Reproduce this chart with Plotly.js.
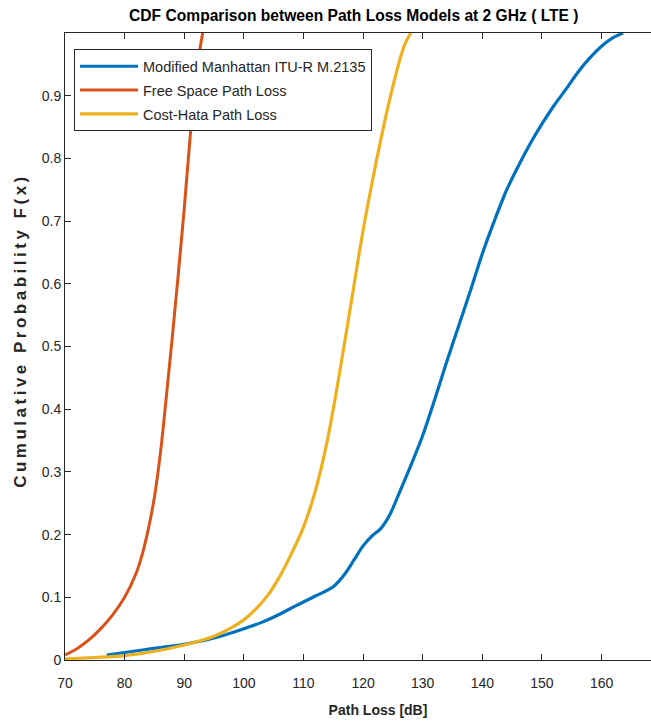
<!DOCTYPE html>
<html>
<head>
<meta charset="utf-8">
<script src="https://cdn.plot.ly/plotly-3.0.1.min.js"></script>
<style>
html,body{margin:0;padding:0;background:#fff;overflow:hidden;}
#chart{width:691px;height:727px;}
.annotation-text{letter-spacing:3.5px;}
</style>
</head>
<body>
<div id="chart"></div>
<script>
// Modified Manhattan ITU-R M.2135
const manhattanX = [77, 80, 83, 86, 90, 95, 100, 103, 106, 109, 112, 115, 117, 118.5, 120, 121.5, 123, 124.5, 126, 128, 130, 132, 134, 136, 138, 140, 142, 144, 146, 148, 150, 152, 154, 156, 158, 160, 162, 163.6];
const manhattanY = [0.008, 0.012, 0.016, 0.02, 0.025, 0.035, 0.05, 0.06, 0.073, 0.088, 0.102, 0.117, 0.138, 0.16, 0.182, 0.198, 0.21, 0.232, 0.265, 0.31, 0.358, 0.415, 0.475, 0.532, 0.589, 0.648, 0.70, 0.748, 0.787, 0.823, 0.855, 0.884, 0.91, 0.937, 0.96, 0.979, 0.993, 1.0];
// Free Space Path Loss
const freeSpaceX = [70, 72, 74, 76, 78, 80, 82, 83, 84, 85, 86, 87, 88, 89, 90, 91, 92, 93.1];
const freeSpaceY = [0.008, 0.018, 0.032, 0.05, 0.072, 0.1, 0.14, 0.17, 0.21, 0.26, 0.33, 0.42, 0.515, 0.615, 0.72, 0.835, 0.935, 1.0];
// Cost-Hata Path Loss
const hataX = [70, 75, 80, 85, 90, 95, 98, 100, 102, 104, 106, 108, 110, 112, 114, 116, 118, 120, 122, 124, 125, 126, 127, 128];
const hataY = [0.002, 0.004, 0.007, 0.014, 0.024, 0.038, 0.052, 0.064, 0.081, 0.103, 0.133, 0.17, 0.212, 0.27, 0.35, 0.455, 0.57, 0.685, 0.785, 0.875, 0.915, 0.952, 0.982, 1.0];

const xTicks = [70, 80, 90, 100, 110, 120, 130, 140, 150, 160];
const yTicks = [0, 0.1, 0.2, 0.3, 0.4, 0.5, 0.6, 0.7, 0.8, 0.9];
const yTickText = ['0', '0.1', '0.2', '0.3', '0.4', '0.5', '0.6', '0.7', '0.8', '0.9'];

const font = '"Liberation Sans", Arial, sans-serif';
const txtColor = '#262626';

const traces = [
  {x: manhattanX, y: manhattanY, mode: 'lines', name: 'Modified Manhattan ITU-R M.2135',
   line: {color: '#0072BD', width: 3.2, shape: 'spline', smoothing: 0.8}, legendgroup: 'a'},
  {x: freeSpaceX, y: freeSpaceY, mode: 'lines', name: 'Free Space Path Loss',
   line: {color: '#D95319', width: 3, shape: 'spline'}, legendgroup: 'b'},
  {x: hataX, y: hataY, mode: 'lines', name: 'Cost-Hata Path Loss',
   line: {color: '#EDB120', width: 3.2, shape: 'spline'}, legendgroup: 'c'}
];

const layout = {
  width: 691, height: 727,
  margin: {l: 65, r: 0, t: 33, b: 67},
  paper_bgcolor: '#fff', plot_bgcolor: '#fff',
  showlegend: true,
  title: {text: '<b>CDF Comparison between Path Loss Models at 2 GHz ( LTE )</b>',
          font: {family: font, size: 15.6, color: '#000'}, x: 0.512, xref: 'container', xanchor: 'center', y: 0.979, yanchor: 'middle'},
  xaxis: {
    range: [70, 175], tickvals: xTicks, ticktext: xTicks.map(String),
    ticks: 'inside', ticklen: 6, tickcolor: txtColor, tickwidth: 1,
    showline: true, linecolor: txtColor, linewidth: 1, mirror: 'ticks',
    showgrid: false, zeroline: false, ticklabelstandoff: 10,
    tickfont: {family: font, size: 14, color: txtColor},
    title: {text: '<b>Path Loss [dB]</b>', font: {family: font, size: 14, color: txtColor}, standoff: 15}
  },
  yaxis: {
    range: [0, 1], tickvals: yTicks, ticktext: yTickText,
    ticks: 'inside', ticklen: 6, tickcolor: txtColor, tickwidth: 1,
    showline: true, linecolor: txtColor, linewidth: 1, mirror: 'ticks',
    showgrid: false, zeroline: false,
    tickfont: {family: font, size: 14, color: txtColor}
  },
  annotations: [{
    text: '<b>Cumulative Probability F(x)</b>', textangle: -90,
    xref: 'paper', yref: 'paper', x: 0, y: 0.525, xshift: -44,
    xanchor: 'center', yanchor: 'middle', showarrow: false,
    font: {family: font, size: 17, color: txtColor}
  }],
  legend: {
    x: 0.0144, y: 0.974, xanchor: 'left', yanchor: 'top',
    bordercolor: txtColor, borderwidth: 1, bgcolor: '#fff',
    font: {family: font, size: 14.5, color: txtColor},
    tracegroupgap: 2, itemwidth: 58
  }
};

Plotly.newPlot('chart', traces, layout, {displayModeBar: false, staticPlot: true});
</script>
</body>
</html>
